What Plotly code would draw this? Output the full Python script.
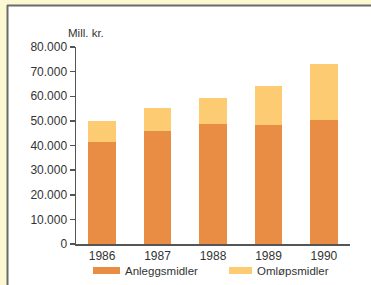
import plotly.graph_objects as go

years = ["1986", "1987", "1988", "1989", "1990"]
anleggsmidler = [41500, 45800, 48600, 48300, 50200]
omlopsmidler = [8400, 9600, 10600, 15700, 23100]
series_names = ["Anleggsmidler", "Omløpsmidler"]
colors = ["#e98d45", "#fdcc72"]
y_ticks = [0, 10000, 20000, 30000, 40000, 50000, 60000, 70000, 80000]

FONT = "Liberation Sans, Arial, sans-serif"
W, H = 371, 285
L, R, T, B = 76, 21, 47, 41
pw, ph = W - L - R, H - T - B

def px_x(p):
    return (p - L) / pw

def px_y(p):
    return (H - B - p) / ph

fig = go.Figure()
for name, vals, c in zip(series_names, [anleggsmidler, omlopsmidler], colors):
    fig.add_trace(go.Bar(x=years, y=vals, name=name, marker=dict(color=c, line=dict(width=0))))

YEL = "#fbf8d2"
shapes = [
    dict(type="rect", xref="paper", yref="paper", x0=px_x(0), x1=px_x(W), y0=px_y(6), y1=px_y(0),
         fillcolor=YEL, line=dict(width=0), layer="below"),
    dict(type="rect", xref="paper", yref="paper", x0=px_x(0), x1=px_x(7), y0=px_y(H), y1=px_y(0),
         fillcolor=YEL, line=dict(width=0), layer="below"),
    dict(type="line", xref="paper", yref="paper", x0=px_x(7), x1=px_x(W), y0=px_y(5.5), y1=px_y(5.5),
         line=dict(color="#6b6b6b", width=2), layer="below"),
    dict(type="line", xref="paper", yref="paper", x0=px_x(7.5), x1=px_x(7.5), y0=px_y(5), y1=px_y(H),
         line=dict(color="#6b6b6b", width=2), layer="below"),
]
annotations = [
    dict(text="Mill. kr.", xref="paper", yref="paper", x=px_x(66), y=px_y(33), xanchor="left", yanchor="middle",
         showarrow=False, font=dict(family=FONT, size=11.5, color="#333")),
]
leg = [(93, 120, 123), (229, 252, 255)]
for (s0, s1, tx), name, c in zip(leg, series_names, colors):
    shapes.append(dict(type="rect", xref="paper", yref="paper", x0=px_x(s0), x1=px_x(s1),
                       y0=px_y(274), y1=px_y(267), fillcolor=c, line=dict(width=0)))
    annotations.append(dict(text=name, xref="paper", yref="paper", x=px_x(tx), y=px_y(271),
                            xanchor="left", yanchor="middle", showarrow=False,
                            font=dict(family=FONT, size=11.5, color="#333")))

fig.update_layout(
    barmode="stack",
    bargap=0.5,
    width=W, height=H,
    margin=dict(l=L, r=R, t=T, b=B, pad=0),
    paper_bgcolor="white",
    plot_bgcolor="rgba(0,0,0,0)",
    showlegend=False,
    separators=",.",
    font=dict(family=FONT, size=11.5, color="#333"),
    shapes=shapes,
    annotations=annotations,
    xaxis=dict(showline=True, linecolor="#555", linewidth=1.5, ticks="", showgrid=False,
               range=[-0.47, 4.47], tickfont=dict(size=12, color="#333"), ticklabelstandoff=0),
    yaxis=dict(showline=True, linecolor="#555", linewidth=1.5, ticks="outside", ticklen=5,
               tickcolor="#555", tickwidth=1.5, showgrid=False, zeroline=False,
               range=[0, 80000], tickvals=y_ticks, tickformat=",d",
               tickfont=dict(size=12, color="#333")),
)

fig.write_html("out.html", config={"displayModeBar": False, "staticPlot": True},
               post_script="document.body.style.margin='0';document.body.style.overflow='hidden';")
